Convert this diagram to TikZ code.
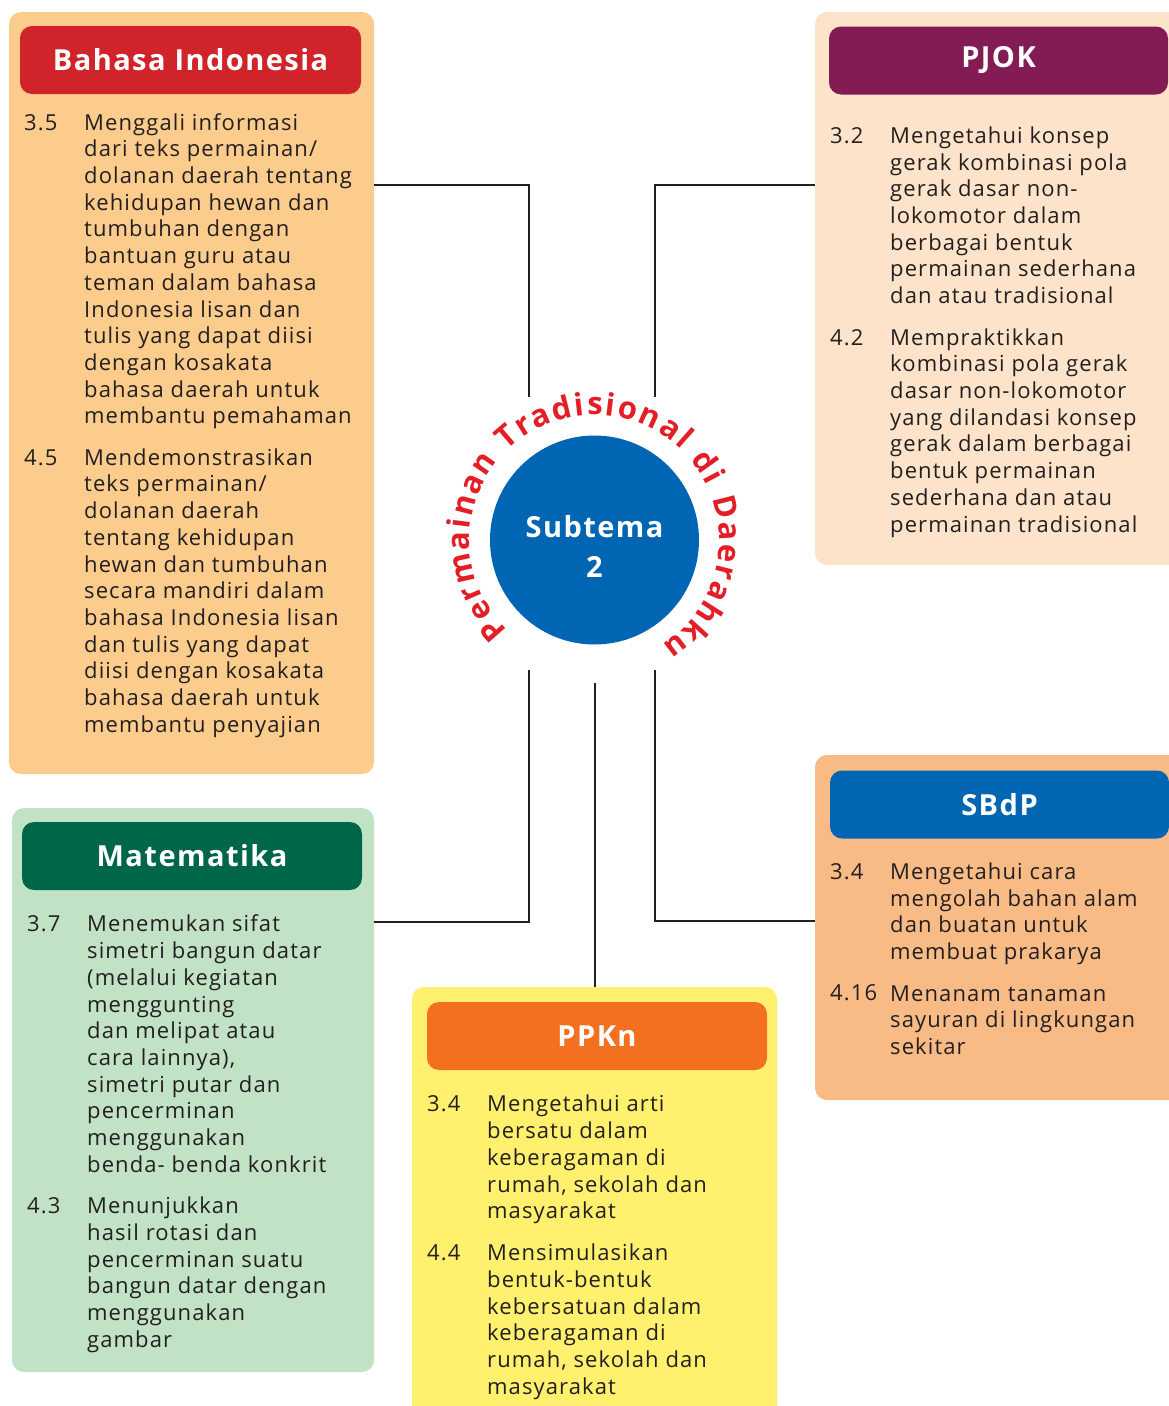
\documentclass[tikz,border=0pt]{standalone}
\usepackage{fontspec}
\setmainfont[LetterSpace=5]{Open Sans}
\usetikzlibrary{decorations.text}

\definecolor{ink}{HTML}{231F20}
\definecolor{bired}{HTML}{D1232A}
\definecolor{bisoft}{HTML}{FCCC8C}
\definecolor{pjpurple}{HTML}{831C55}
\definecolor{pjsoft}{HTML}{FDE3C9}
\definecolor{sbblue}{HTML}{0066B3}
\definecolor{sbsoft}{HTML}{F9BB86}
\definecolor{mtgreen}{HTML}{00664A}
\definecolor{mtsoft}{HTML}{C1E2C5}
\definecolor{pporange}{HTML}{F37021}
\definecolor{ppsoft}{HTML}{FFF16E}
\definecolor{ringred}{HTML}{E31E26}

\begin{document}
\begin{tikzpicture}[x=1pt,y=1pt,
    panel/.style={rounded corners=12pt, inner sep=0pt},
    head/.style={rounded corners=12pt, inner sep=0pt, minimum height=68pt, text=white, font=\bfseries\fontsize{29}{36}\selectfont},
    num/.style={anchor=base west, inner sep=0pt, text=ink, font=\fontsize{22}{26.7}\selectfont},
    item/.style={anchor=north west, inner sep=0pt, align=left, text=ink, font=\fontsize{22}{26.7}\selectfont},
    hub/.style={circle, fill=sbblue, minimum size=209pt, inner sep=0pt},
    link/.style={draw=ink, line width=2pt}]
    \useasboundingbox (0,0) rectangle (1169,-1406);

    %Panels
    \node[panel, fill=bisoft, minimum width=365pt, minimum height=762pt] at (191.5,-393) (bi) {};
    \node[panel, fill=pjsoft, minimum width=375pt, minimum height=553pt] at (1002.5,-288.5) (pj) {};
    \node[panel, fill=sbsoft, minimum width=375pt, minimum height=345pt] at (1002.5,-927.5) (sb) {};
    \node[panel, fill=mtsoft, minimum width=362pt, minimum height=564pt] at (193,-1090) (mt) {};
    \node[panel, fill=ppsoft, minimum width=365pt, minimum height=443pt] at (594.5,-1208.5) (pp) {};

    %Headers
    \node[head, fill=bired, minimum width=341pt] at (190.5,-60) (bihead) {Bahasa Indonesia};
    \node[head, fill=pjpurple, minimum width=339pt] at (998.5,-60.5) (pjhead) {PJOK};
    \node[head, fill=sbblue, minimum width=339pt] at (999.5,-804.5) (sbhead) {SBdP};
    \node[head, fill=mtgreen, minimum width=340pt] at (192,-856) (mthead) {Matematika};
    \node[head, fill=pporange, minimum width=340pt] at (597,-1036) (pphead) {PPKn};

    %Bahasa Indonesia
    \node[num] at (24,-130) (bi35n) {3.5};
    \node[item] at (84,-111.3) (bi35) {\strut Menggali informasi\\dari teks permainan/\\dolanan daerah tentang\\kehidupan hewan dan\\tumbuhan dengan\\bantuan guru atau\\teman dalam bahasa\\Indonesia lisan dan\\tulis yang dapat diisi\\dengan kosakata\\bahasa daerah untuk\\membantu pemahaman};
    \node[num] at (24,-465) (bi45n) {4.5};
    \node[item] at (84,-446.3) (bi45) {\strut Mendemonstrasikan\\teks permainan/\\dolanan daerah\\tentang kehidupan\\hewan dan tumbuhan\\secara mandiri dalam\\bahasa Indonesia lisan\\dan tulis yang dapat\\diisi dengan kosakata\\bahasa daerah untuk\\membantu penyajian};

    %PJOK
    \node[num] at (830,-143.3) (pj32n) {3.2};
    \node[item] at (890,-124.6) (pj32) {\strut Mengetahui konsep\\gerak kombinasi pola\\gerak dasar non-\\lokomotor dalam\\berbagai bentuk\\permainan sederhana\\dan atau tradisional};
    \node[num] at (830,-345) (pj42n) {4.2};
    \node[item] at (890,-326.3) (pj42) {\strut Mempraktikkan\\kombinasi pola gerak\\dasar non-lokomotor\\yang dilandasi konsep\\gerak dalam berbagai\\bentuk permainan\\sederhana dan atau\\permainan tradisional};

    %SBdP
    \node[num] at (830,-879.3) (sb34n) {3.4};
    \node[item] at (890,-860.6) (sb34) {\strut Mengetahui cara\\mengolah bahan alam\\dan buatan untuk\\membuat prakarya};
    \node[num] at (830,-1000.9) (sb416n) {4.16};
    \node[item] at (890,-982.2) (sb416) {\strut Menanam tanaman\\sayuran di lingkungan\\sekitar};

    %Matematika
    \node[num] at (27,-931.7) (mt37n) {3.7};
    \node[item] at (87,-913) (mt37) {\strut Menemukan sifat\\simetri bangun datar\\(melalui kegiatan\\menggunting\\dan melipat atau\\cara lainnya),\\simetri putar dan\\pencerminan\\menggunakan\\benda- benda konkrit};
    \node[num] at (27,-1213.5) (mt43n) {4.3};
    \node[item] at (87,-1194.8) (mt43) {\strut Menunjukkan\\hasil rotasi dan\\pencerminan suatu\\bangun datar dengan\\menggunakan\\gambar};

    %PPKn
    \node[num] at (427,-1111.7) (pp34n) {3.4};
    \node[item] at (487,-1093) (pp34) {\strut Mengetahui arti\\bersatu dalam\\keberagaman di\\rumah, sekolah dan\\masyarakat};
    \node[num] at (427,-1260.5) (pp44n) {4.4};
    \node[item] at (487,-1241.8) (pp44) {\strut Mensimulasikan\\bentuk-bentuk\\kebersatuan dalam\\keberagaman di\\rumah, sekolah dan\\masyarakat};

    %Subtema
    \node[hub] at (594.5,-540) (sub) {};
    \node[align=center, inner sep=0pt, text=white, font=\bfseries\fontsize{29}{40}\selectfont] at (594.5,-546) (subtxt) {Subtema\\2};
    \path[decorate, decoration={text along path, text color=ringred,
        text={|\bfseries\fontsize{31}{36}\selectfont|Permainan Tradisional di Daerahku},
        text align={fit to path}}]
        (sub) ++(226:125) arc[start angle=226, end angle=-57, radius=125];

    %Lines
    \coordinate (bidrop) at (529,-397);
    \coordinate (pjdrop) at (655,-397);
    \coordinate (mtrise) at (529,-670);
    \coordinate (sbrise) at (655,-670);
    \coordinate (pprise) at (594.5,-683);
    \draw[link] (bi.east |- 0,-185) -| (bidrop);
    \draw[link] (pj.west |- 0,-185) -| (pjdrop);
    \draw[link] (mt.east |- 0,-922) -| (mtrise);
    \draw[link] (sb.west |- 0,-921) -| (sbrise);
    \draw[link] (pp.north) -- (pprise);
\end{tikzpicture}
\end{document}
